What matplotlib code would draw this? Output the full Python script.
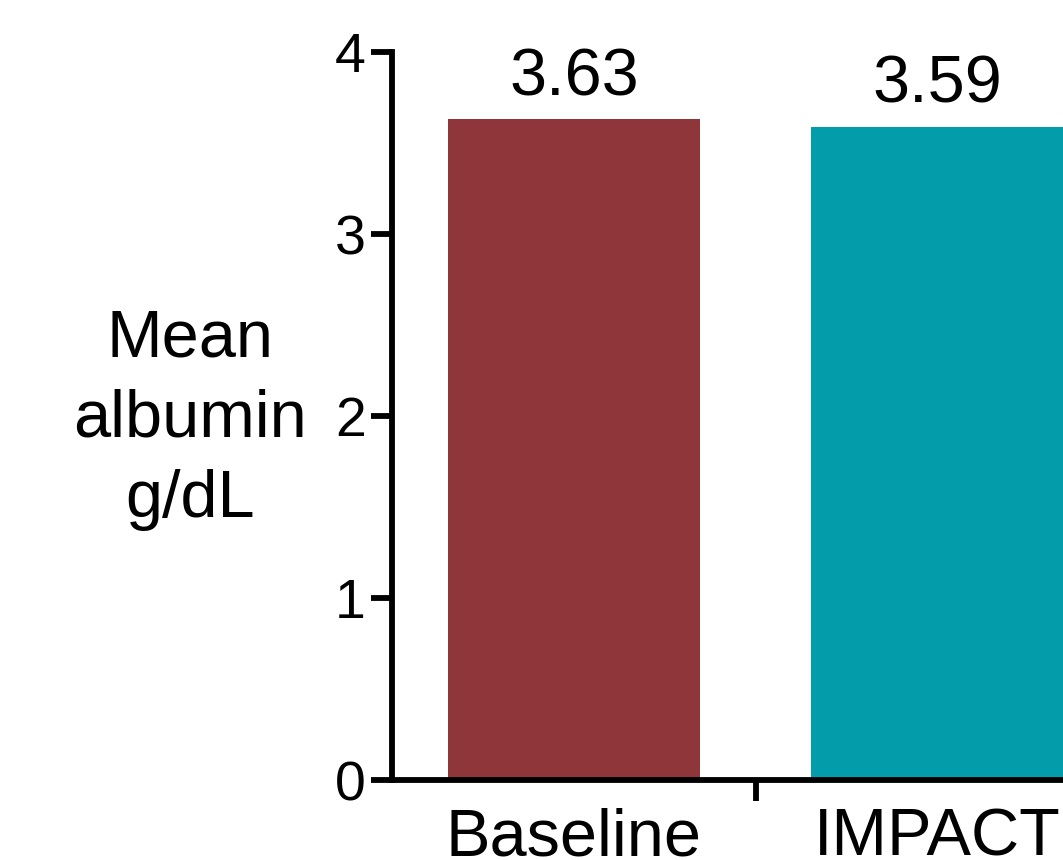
import matplotlib.pyplot as plt

groups = ['Baseline', 'IMPACT']
albumin = [3.63, 3.59]
labels = ['3.63', '3.59']
colors = ['#8E3639', '#029CAB']

plt.rcParams['font.family'] = ['Liberation Sans', 'DejaVu Sans']

fig = plt.figure(figsize=(10.63, 8.6), dpi=100)
ax = fig.add_axes([0.3688, 0.093, 0.6844, 0.8465])

x = list(range(len(groups)))
bars = ax.bar(x, albumin, width=0.695, color=colors, edgecolor='none')

for b, t in zip(bars, labels):
    ax.annotate(t, (b.get_x() + b.get_width() / 2, b.get_height()),
                xytext=(0, 7), textcoords='offset points',
                ha='center', va='bottom', fontsize=48)

ax.set_xlim(-0.5, 1.5)
ax.set_ylim(0, 4)
ax.set_yticks([0, 1, 2, 3, 4])
ax.set_xticks(x)
ax.set_xticklabels(groups, fontsize=48)
ax.set_xticks([0.5], minor=True)

for s in ['top', 'right']:
    ax.spines[s].set_visible(False)
for s in ['left', 'bottom']:
    ax.spines[s].set_linewidth(4.2)

ax.tick_params(axis='y', length=15, width=4.2, labelsize=40, pad=4)
ax.tick_params(axis='x', which='major', length=0, pad=20)
ax.tick_params(axis='x', which='minor', length=15, width=4.2)

fig.text(0.179, 0.512, 'Mean\nalbumin\ng/dL', ha='center', va='center',
         fontsize=48, linespacing=1.38)

fig.savefig('out.png', dpi=100)
